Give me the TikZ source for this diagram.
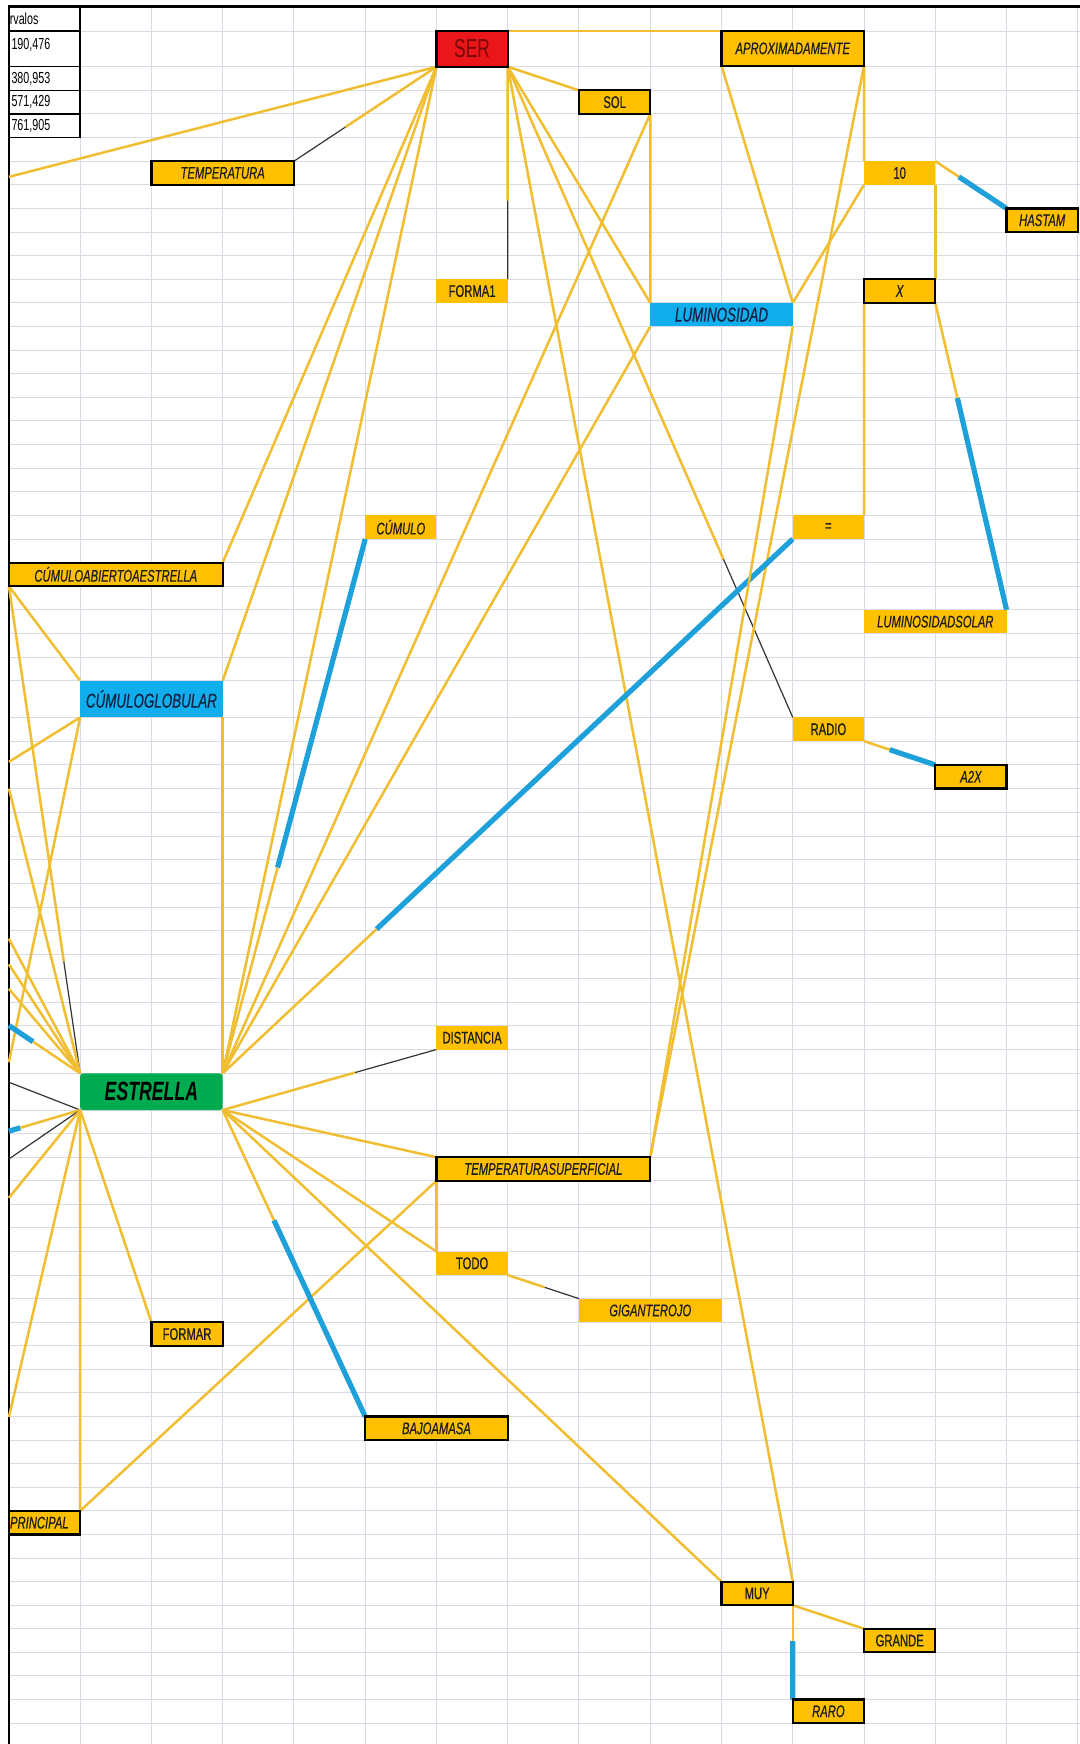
\documentclass[tikz,border=0pt]{standalone}
\usepackage{fontspec}
\setmainfont{Liberation Sans}[FakeStretch=0.67]
\newfontfamily\lblfont{Liberation Sans}[FakeStretch=0.67,FakeBold=0.6]
\usetikzlibrary{calc}
\newlength{\pxu}\setlength{\pxu}{0.55615pt}
\definecolor{gridc}{RGB}{214,219,228}
\definecolor{lineor}{RGB}{240,190,48}
\definecolor{boxor}{RGB}{255,192,0}
\definecolor{lineblue}{RGB}{30,160,218}
\definecolor{boxblue}{RGB}{16,174,236}
\definecolor{boxgreen}{RGB}{0,170,80}
\definecolor{boxred}{RGB}{235,22,26}
\definecolor{sertext}{RGB}{120,10,10}
\definecolor{txt}{RGB}{30,30,30}
\definecolor{navy}{RGB}{20,35,70}
\pgfdeclarelayer{gridlayer}\pgfdeclarelayer{edgelayer}
\pgfsetlayers{gridlayer,edgelayer,main}
\newcommand{\cellnode}[7]{\node[#1, anchor=north west, minimum width={(#5-#3)*\pxu}, minimum height={(#6-#4)*\pxu}] (#2) at (#3,#4) {#7};}
\newcommand{\twotone}[5]{\draw[#1] (#3) -- ($(#3)!#5!(#4)$); \draw[#2] ($(#3)!#5!(#4)$) -- (#4);}
\tikzset{
 base/.style={inner sep=0pt, outer sep=0pt, font=\lblfont\fontsize{8.4}{9}\selectfont, text=txt},
 obox/.style={base, fill=boxor},
 obord/.style={obox, draw=black, line width=1.1pt},
 itx/.style={font=\lblfont\fontsize{8.4}{9}\selectfont\itshape},
 ol/.style={draw=lineor, line width=1.25pt},
 bl/.style={draw=lineblue, line width=2.6pt},
 kl/.style={draw=black!80, line width=0.6pt},
 gl/.style={draw=gridc, line width=0.5pt},
 tb/.style={draw=black, line width=0.7pt},
 tabtxt/.style={inner sep=0pt, anchor=west, font=\fontsize{8}{9}\selectfont, text=black},
}
\begin{document}
\begin{tikzpicture}[x=0.55615pt,y=-0.55615pt]
\useasboundingbox (0,0) rectangle (971,1568);
% ---------------- grid ----------------
\begin{pgfonlayer}{gridlayer}
\fill[white] (0,0) rectangle (971,1568);
\foreach \c in {1,...,15} \draw[gl] ({8+64.07*\c},6) -- ({8+64.07*\c},1568);
\draw[gl] (8,28) -- (971,28);
\draw[gl] (8,60) -- (971,60);
\foreach \k in {1,...,26} \draw[gl] (8,{60+21.23*\k}) -- (971,{60+21.23*\k});
\foreach \k in {0,...,15} \draw[gl] (8,{645+21.33*\k}) -- (971,{645+21.33*\k});
\foreach \k in {0,...,26} \draw[gl] (8,{998+21.2*\k}) -- (971,{998+21.2*\k});
\draw[black, line width=1.3pt] (8,1568) -- (8,6) -- (971,6);
% table
\draw[tb] (72.07,6) -- (72.07,123.69);
\foreach \yy in {28,60,81.23,102.46,123.69} \draw[tb] (8,\yy) -- (72.07,\yy);
\end{pgfonlayer}
\node[tabtxt] (tab0) at (8.5,17) {rvalos};
\node[tabtxt] (tab1) at (10,40) {190,476};
\node[tabtxt] (tab2) at (10,70.6) {380,953};
\node[tabtxt] (tab3) at (10,91.8) {571,429};
\node[tabtxt] (tab4) at (10,113) {761,905};
% ---------------- nodes ----------------
\cellnode{base, fill=boxred, draw=black, line width=1.1pt, text=sertext, font=\fontsize{13}{14}\selectfont}{ser}{392.42}{28}{456.49}{60}{SER}
\cellnode{obord, itx}{aprox}{648.7}{28}{776.84}{59}{APROXIMADAMENTE}
\cellnode{obord}{sol}{520.56}{81.23}{584.63}{102.46}{SOL}
\cellnode{obord, itx}{temp}{136.14}{144.92}{264.28}{166.15}{TEMPERATURA}
\cellnode{obox}{ten}{776.84}{144.92}{840.91}{166.15}{10}
\cellnode{obord, itx}{hastam}{904.98}{187.38}{969.05}{208.61}{HASTAM}
\cellnode{obox}{forma}{392.42}{251.07}{456.49}{272.3}{FORMA1}
\cellnode{obord, itx}{xx}{776.84}{251.07}{840.91}{272.3}{X}
\cellnode{base, fill=boxblue, text=navy, font=\lblfont\fontsize{10}{11}\selectfont\itshape}{lum}{584.63}{272.3}{712.77}{293.53}{LUMINOSIDAD}
\cellnode{obox, itx}{cumulo}{328.35}{463.37}{392.42}{484.6}{CÚMULO}
\cellnode{obox}{eq}{712.77}{463.37}{776.84}{484.6}{=}
\cellnode{obord, itx}{cae}{8}{505.83}{200.21}{527.06}{CÚMULOABIERTOAESTRELLA}
\cellnode{obox, itx}{lsolar}{776.84}{548.29}{904.98}{569.52}{LUMINOSIDADSOLAR}
\cellnode{base, fill=boxblue, text=navy, font=\lblfont\fontsize{10}{11}\selectfont\itshape}{cglob}{72.07}{611.98}{200.21}{645}{CÚMULOGLOBULAR}
\cellnode{obox}{radio}{712.77}{645}{776.84}{666.33}{RADIO}
\cellnode{obord, itx}{atwox}{840.91}{687.67}{904.98}{709}{A2X}
\cellnode{obox}{dist}{392.42}{922.3}{456.49}{943.6}{DISTANCIA}
\cellnode{base, fill=boxgreen, rounded corners=1.5pt, text=black, font=\fontsize{13.2}{14}\selectfont\bfseries\itshape}{estrella}{72.07}{965}{200.21}{998}{ESTRELLA}
\cellnode{obord, itx}{tsup}{392.42}{1040.4}{584.63}{1061.6}{TEMPERATURASUPERFICIAL}
\cellnode{obox}{todo}{392.42}{1125.2}{456.49}{1146.4}{TODO}
\cellnode{obox, itx}{giga}{520.56}{1167.6}{648.7}{1188.8}{GIGANTEROJO}
\cellnode{obord}{formar}{136.14}{1188.8}{200.21}{1210}{FORMAR}
\cellnode{obord, itx}{bajo}{328.35}{1273.6}{456.49}{1294.8}{BAJOAMASA}
\cellnode{obord, itx}{principal}{8}{1358.4}{72.07}{1379.6}{\makebox[62\pxu][l]{PRINCIPAL}}
\cellnode{obord}{muy}{648.7}{1422}{712.77}{1443.2}{MUY}
\cellnode{obord}{grande}{776.84}{1464.4}{840.91}{1485.6}{GRANDE}
\cellnode{obord, itx}{raro}{712.77}{1528}{776.84}{1549.2}{RARO}
% free ends at the left border
\coordinate (L1) at (8,159);
\coordinate (L2) at (8,685);
\coordinate (L3) at (8,955);
\coordinate (L4) at (8,709);
\coordinate (L5) at (8,844);
\coordinate (L6) at (8,867);
\coordinate (L7) at (8,889);
\coordinate (L8) at (8,922);
\coordinate (L9) at (8,973);
\coordinate (L10) at (8,1017);
\coordinate (L11) at (8,1042);
\coordinate (L12) at (8,1077);
\coordinate (L13) at (8,1274);
% ---------------- connectors ----------------
\begin{pgfonlayer}{edgelayer}
% SER
\draw[ol] (ser.south west) -- (L1);
\twotone{ol}{kl}{ser.south west}{temp.north east}{0.64}
\draw[ol] (ser.south west) -- (cae.north east);
\draw[ol] (ser.south west) -- (cglob.north east);
\draw[ol] (ser.south west) -- (estrella.north east);
\draw[ol] (ser.north east) -- (aprox.north west);
\draw[ol] (ser.south east) -- (sol.north west);
\twotone{ol}{kl}{ser.south east}{forma.north east}{0.63}
\draw[ol] (ser.south east) -- (lum.north west);
\twotone{ol}{kl}{ser.south east}{radio.north west}{0.757}
\draw[ol] (ser.south east) -- (muy.north east);
% SOL, APROX, 10, X
\draw[ol] (sol.south east) -- (lum.north west);
\draw[ol] (sol.south east) -- (estrella.north east);
\draw[ol] (aprox.south west) -- (lum.north east);
\draw[ol] (aprox.south east) -- (ten.north west);
\draw[ol] (aprox.south east) -- (tsup.north east);
\draw[ol] (ten.south west) -- (lum.north east);
\twotone{ol}{bl}{ten.north east}{hastam.north west}{0.33}
\draw[ol] (ten.south east) -- (xx.north east);
\twotone{ol}{bl}{xx.south east}{lsolar.north east}{0.31}
\draw[ol] (xx.south west) -- (eq.north east);
\twotone{bl}{ol}{eq.south west}{estrella.north east}{0.73}
\draw[ol] (lum.south west) -- (estrella.north east);
\draw[ol] (lum.south east) -- (tsup.north east);
\twotone{bl}{ol}{cumulo.south west}{estrella.north east}{0.615}
\draw[ol] (cglob.south east) -- (estrella.north east);
\twotone{ol}{bl}{radio.south east}{atwox.north west}{0.36}
% left side
\draw[ol] (cae.south west) -- (cglob.north west);
\twotone{ol}{kl}{cae.south west}{estrella.north west}{0.77}
\draw[ol] (cglob.south west) -- (L2);
\draw[ol] (cglob.south west) -- (L3);
\draw[ol] (L4) -- (estrella.north west);
\draw[ol] (L5) -- (estrella.north west);
\draw[ol] (L6) -- (estrella.north west);
\draw[ol] (L7) -- (estrella.north west);
\twotone{bl}{ol}{L8}{estrella.north west}{0.34}
\draw[kl] (L9) -- (estrella.south west);
\twotone{bl}{ol}{L10}{estrella.south west}{0.16}
\draw[kl] (L11) -- (estrella.south west);
\draw[ol] (L12) -- (estrella.south west);
\draw[ol] (estrella.south west) -- (L13);
\draw[ol] (estrella.south west) -- (principal.north east);
\draw[ol] (estrella.south west) -- (formar.north west);
\draw[ol] (principal.north east) -- (tsup.south west);
% ESTRELLA right
\twotone{ol}{kl}{estrella.south east}{dist.south west}{0.62}
\draw[ol] (estrella.south east) -- (tsup.north west);
\draw[ol] (estrella.south east) -- (todo.north west);
\draw[ol] (estrella.south east) -- (muy.north west);
\twotone{ol}{bl}{estrella.south east}{bajo.north west}{0.36}
\draw[ol] (tsup.south west) -- (todo.north west);
\twotone{ol}{kl}{todo.south east}{giga.north west}{0.52}
\draw[ol] (muy.south east) -- (grande.north west);
\twotone{ol}{bl}{muy.south east}{raro.north west}{0.38}
\end{pgfonlayer}
\end{tikzpicture}
\end{document}
